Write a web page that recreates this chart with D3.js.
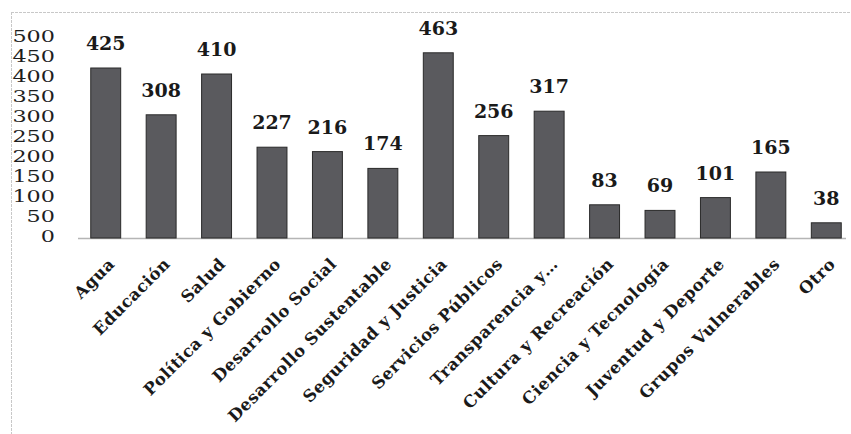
<!DOCTYPE html>
<html><head><meta charset="utf-8">
<script src="https://cdn.jsdelivr.net/npm/d3@7"></script>
<style>
html,body{margin:0;padding:0;background:#fff;}
svg{display:block;}
</style></head>
<body>
<svg id="chart" width="851" height="434"></svg>
<script>
const categories = ["Agua","Educación","Salud","Política y Gobierno","Desarrollo Social","Desarrollo Sustentable","Seguridad y Justicia","Servicios Públicos","Transparencia y…","Cultura y Recreación","Ciencia y Tecnología","Juventud y Deporte","Grupos Vulnerables","Otro"];
const values = [425,308,410,227,216,174,463,256,317,83,69,101,165,38];
const yTicks = [0,50,100,150,200,250,300,350,400,450,500];

const svg = d3.select("#chart");
const W = 851, H = 434;
const serif = "'DejaVu Serif', serif";

// frame
svg.append("line").attr("x1",11).attr("x2",W).attr("y1",12.5).attr("y2",12.5)
  .attr("stroke","#c8c8c8").attr("stroke-width",1).attr("stroke-dasharray","3,1");
svg.append("line").attr("x1",11.5).attr("x2",11.5).attr("y1",12).attr("y2",H)
  .attr("stroke","#c8c8c8").attr("stroke-width",1).attr("stroke-dasharray","3,1");

const x = d3.scaleBand().domain(categories).range([78,854]).paddingInner(0.46).paddingOuter(0.23);
const y = d3.scaleLinear().domain([0,500]).range([238,38]);

// y tick labels
const yAxis = d3.axisLeft(y).tickValues(yTicks).tickSize(0).tickPadding(0);
const ga = svg.append("g").attr("transform","translate(55,-3)").call(yAxis);
ga.select(".domain").remove();
ga.selectAll("text").attr("font-family",serif).attr("font-size",17).attr("fill","#1e1e1e")
  .attr("dy","0.36em")
  .attr("textLength",d=>String(d).length*14.2)
  .attr("lengthAdjust","spacingAndGlyphs");

// baseline
svg.append("line").attr("x1",78).attr("x2",846).attr("y1",y(0)+0.5).attr("y2",y(0)+0.5)
  .attr("stroke","#b5b5b5").attr("stroke-width",1.5);

// bars
svg.selectAll("rect.bar").data(values).enter().append("rect")
  .attr("class","bar")
  .attr("x",(d,i)=>x(categories[i]))
  .attr("y",d=>y(d))
  .attr("width",x.bandwidth())
  .attr("height",d=>y(0)-y(d))
  .attr("fill","#5a5a5e").attr("stroke","#2a2a2a").attr("stroke-width",1);

// value labels
svg.selectAll("text.val").data(values).enter().append("text")
  .attr("class","val")
  .attr("x",(d,i)=>x(categories[i])+x.bandwidth()/2)
  .attr("y",d=>y(d)-18)
  .attr("text-anchor","middle")
  .attr("font-family",serif).attr("font-weight","bold").attr("font-size",19)
  .attr("fill","#1a1a1a")
  .text(d=>d);

// x labels rotated
svg.selectAll("text.cat").data(categories).enter().append("text")
  .attr("class","cat")
  .attr("text-anchor","end")
  .attr("transform",d=>`translate(${x(d)+x.bandwidth()/2+10},265) rotate(-45)`)
  .attr("font-family",serif).attr("font-weight","bold").attr("font-size",16.5)
  .attr("letter-spacing",0.5)
  .attr("fill","#1a1a1a")
  .text(d=>d);
</script>
</body></html>
